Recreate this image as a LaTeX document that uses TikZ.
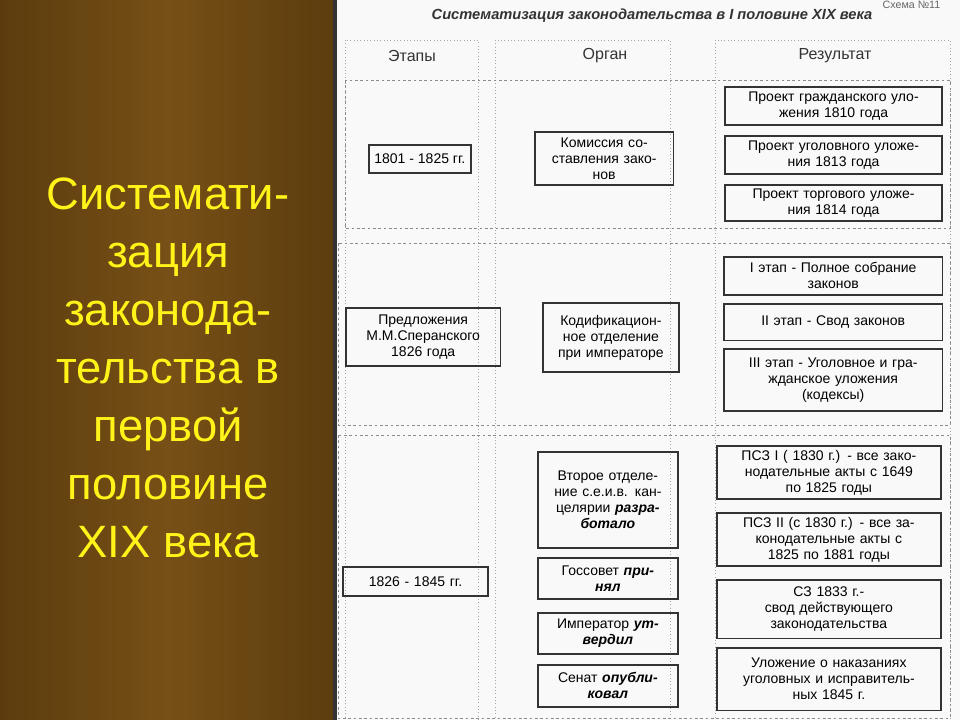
\documentclass[tikz,border=0pt]{standalone}
\usepackage{fontspec}
\setmainfont{Liberation Sans}
\definecolor{brA}{RGB}{92,60,14}
\definecolor{brB}{RGB}{118,80,22}
\begin{document}
\begin{tikzpicture}[x=0.75pt,y=-0.75pt,
  bx/.style={draw=black!80,line width=1.3pt,align=center,font=\fontsize{10.5}{12}\selectfont,inner sep=1pt,anchor=north west},
  sec/.style={draw=black!45,dash pattern=on 2pt off 2pt,line width=0.5pt},
  col/.style={draw=black!35,dotted,line width=0.5pt},
  hd/.style={font=\fontsize{12}{13}\selectfont,text=black!80}]
\useasboundingbox (0,0) rectangle (960,720);
\shade[left color=brA,right color=brA,middle color=brB] (0,0) rectangle (335,720);
\fill[black!80] (333,0) rectangle (337,720);
\fill[gray!5] (337,0) rectangle (960,720);
\node[text=yellow!90!white,align=center,font=\fontsize{34}{43.5}\selectfont] (lt) at (168,368)
 {Системати-\\зация\\законода-\\тельства в\\первой\\половине\\XIX века};
% title
\node[font=\bfseries\itshape\fontsize{11}{12}\selectfont,text=black!80] (ti) at (652,16) {Систематизация законодательства в I половине XIX века};
\node[font=\fontsize{8}{9}\selectfont,text=black!60,anchor=east] (sc) at (945,5) {Схема №11};
% columns
\draw[col] (345,40) rectangle (478,720);
\draw[col] (495,40) rectangle (670,720);
\draw[col] (715,40) rectangle (950,720);
\node[hd] (h1) at (412,56) {Этапы};
\node[hd] (h2) at (605,56) {Орган};
\node[hd] (h3) at (835,56) {Результат};
% sections
\draw[sec] (345,80) rectangle (950,228);
\draw[sec] (338,243) rectangle (950,425);
\draw[sec] (338,435) rectangle (950,718);
% section 1
\node[bx,minimum width=76.5pt,minimum height=21pt] (a1) at (368,144) {1801 - 1825 гг.};
\node[bx,minimum width=104pt,minimum height=40pt,text width=100pt] (b1) at (534,131) {Комиссия со-\\ставления зако-\\нов};
\node[bx,minimum width=163pt,minimum height=28.5pt,text width=158pt] (c1) at (724,86) {Проект гражданского уло-\\жения 1810 года};
\node[bx,minimum width=163pt,minimum height=28.5pt,text width=158pt] (c2) at (724,135) {Проект уголовного уложе-\\ния 1813 года};
\node[bx,minimum width=163pt,minimum height=27pt,text width=158pt] (c3) at (724,184) {Проект торгового уложе-\\ния 1814 года};
% section 2
\node[bx,minimum width=116pt,minimum height=43.5pt,text width=112pt] (a2) at (345,307) {Предложения\\М.М.Сперанского\\1826 года};
\node[bx,minimum width=102pt,minimum height=52pt,text width=98pt] (b2) at (542,302) {Кодификацион-\\ное отделение\\при императоре\\[9pt]};
\node[bx,minimum width=164pt,minimum height=28.5pt,text width=158pt] (d1) at (723,256) {I этап - Полное собрание\\законов};
\node[bx,minimum width=164pt,minimum height=27.5pt,text width=158pt] (d2) at (723,303) {II этап - Свод законов};
\node[bx,minimum width=164pt,minimum height=46.5pt,text width=158pt] (d3) at (723,348) {III этап - Уголовное и гра-\\жданское уложения\\(кодексы)};
% section 3
\node[bx,minimum width=109pt,minimum height=22pt,text width=105pt] (a3) at (342,566) {1826 - 1845 гг.\\[4pt]};
\node[bx,minimum width=105pt,minimum height=72pt,text width=101pt] (e1) at (537,451) {Второе отделе-\\ние с.е.и.в. кан-\\целярии \textbf{\textit{разра-}}\\\textbf{\textit{ботало}}\\[20pt]};
\node[bx,minimum width=105pt,minimum height=31pt,text width=101pt] (e2) at (537,557) {Госсовет \textbf{\textit{при-}}\\\textbf{\textit{нял}}};
\node[bx,minimum width=105pt,minimum height=31pt,text width=101pt] (e3) at (537,612) {Император \textbf{\textit{ут-}}\\\textbf{\textit{вердил}}};
\node[bx,minimum width=105pt,minimum height=31.5pt,text width=101pt] (e4) at (537,664) {Сенат \textbf{\textit{опубли-}}\\\textbf{\textit{ковал}}};
\node[bx,minimum width=168pt,minimum height=40pt,text width=162pt] (f1) at (716,445) {ПСЗ I ( 1830 г.) - все зако-\\нодательные акты с 1649\\по 1825 годы};
\node[bx,minimum width=168pt,minimum height=40pt,text width=162pt] (f2) at (716,512) {ПСЗ II (с 1830 г.) - все за-\\конодательные акты с\\1825 по 1881 годы};
\node[bx,minimum width=168pt,minimum height=44pt,text width=162pt] (f3) at (716,579) {СЗ 1833 г.-\\свод действующего\\законодательства};
\node[bx,minimum width=168pt,minimum height=47pt,text width=162pt] (f4) at (716,647) {Уложение о наказаниях\\уголовных и исправитель-\\ных 1845 г.};
\end{tikzpicture}
\end{document}
